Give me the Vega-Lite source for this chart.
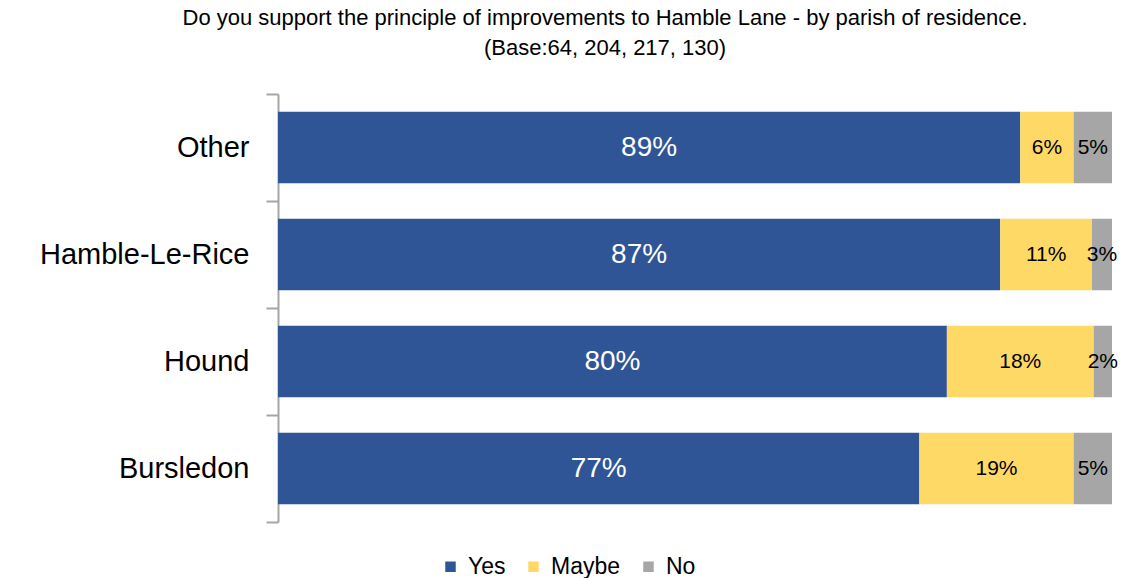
{
  "$schema": "https://vega.github.io/schema/vega-lite/v6.json",
  "width": 834,
  "height": 428,
  "autosize": {"type": "none"},
  "padding": {"left": 278, "top": 94, "right": 12, "bottom": 56},
  "background": "white",
  "config": {"view": {"stroke": null}, "font": "Liberation Sans"},
  "title": {
    "text": ["Do you support the principle of improvements to Hamble Lane - by parish of residence.", "(Base:64, 204, 217, 130)"],
    "font": "Liberation Sans",
    "fontSize": 22,
    "fontWeight": "normal",
    "color": "#000000",
    "anchor": "middle",
    "frame": "group",
    "dx": -90,
    "offset": 20,
    "lineHeight": 30
  },
  "data": {
    "values": [
      {"parish": "Other", "answer": "Yes", "ord": 1, "pct": 89.0, "label": "89%"},
      {"parish": "Other", "answer": "Maybe", "ord": 2, "pct": 6.4, "label": "6%"},
      {"parish": "Other", "answer": "No", "ord": 3, "pct": 4.6, "label": "5%"},
      {"parish": "Hamble-Le-Rice", "answer": "Yes", "ord": 1, "pct": 86.6, "label": "87%"},
      {"parish": "Hamble-Le-Rice", "answer": "Maybe", "ord": 2, "pct": 11.0, "label": "11%"},
      {"parish": "Hamble-Le-Rice", "answer": "No", "ord": 3, "pct": 2.4, "label": "3%"},
      {"parish": "Hound", "answer": "Yes", "ord": 1, "pct": 80.2, "label": "80%"},
      {"parish": "Hound", "answer": "Maybe", "ord": 2, "pct": 17.6, "label": "18%"},
      {"parish": "Hound", "answer": "No", "ord": 3, "pct": 2.2, "label": "2%"},
      {"parish": "Bursledon", "answer": "Yes", "ord": 1, "pct": 76.9, "label": "77%"},
      {"parish": "Bursledon", "answer": "Maybe", "ord": 2, "pct": 18.5, "label": "19%"},
      {"parish": "Bursledon", "answer": "No", "ord": 3, "pct": 4.6, "label": "5%"}
    ]
  },
  "encoding": {
    "y": {
      "field": "parish",
      "type": "nominal",
      "sort": ["Other", "Hamble-Le-Rice", "Hound", "Bursledon"],
      "scale": {"paddingInner": 0, "paddingOuter": 0},
      "axis": {
        "title": null,
        "tickBand": "extent",
        "tickSize": 12,
        "tickWidth": 2,
        "tickColor": "#a6a6a6",
        "domainColor": "#a6a6a6",
        "domainWidth": 2,
        "labelFontSize": 29,
        "labelLimit": 400,
        "labelColor": "#000000",
        "labelFont": "Liberation Sans",
        "labelPadding": 17
      }
    },
    "x": {
      "field": "pct",
      "type": "quantitative",
      "stack": "zero",
      "scale": {"domain": [0, 100], "nice": false},
      "axis": null
    },
    "order": {"field": "ord"}
  },
  "layer": [
    {
      "mark": {"type": "bar", "height": {"band": 0.67}},
      "encoding": {
        "color": {
          "field": "answer",
          "type": "nominal",
          "scale": {"domain": ["Yes", "Maybe", "No"], "range": ["#2f5597", "#ffd966", "#a6a6a6"]},
          "legend": {
            "title": null,
            "orient": "none",
            "legendX": 161,
            "legendY": 461,
            "direction": "horizontal",
            "symbolType": "square",
            "symbolSize": 110,
            "symbolStrokeWidth": 0,
            "labelFontSize": 23,
            "labelFont": "Liberation Sans",
            "labelColor": "#000000",
            "columnPadding": 16,
            "labelOffset": 6
          }
        }
      }
    },
    {
      "mark": {"type": "text", "baseline": "middle", "align": "center", "font": "Liberation Sans"},
      "encoding": {
        "x": {"field": "pct", "type": "quantitative", "stack": "zero", "bandPosition": 0.5},
        "text": {"field": "label"},
        "color": {"condition": {"test": "datum.answer === 'Yes'", "value": "#ffffff"}, "value": "#000000"},
        "size": {"condition": {"test": "datum.answer === 'Yes'", "value": 28}, "value": 21}
      }
    }
  ]
}
